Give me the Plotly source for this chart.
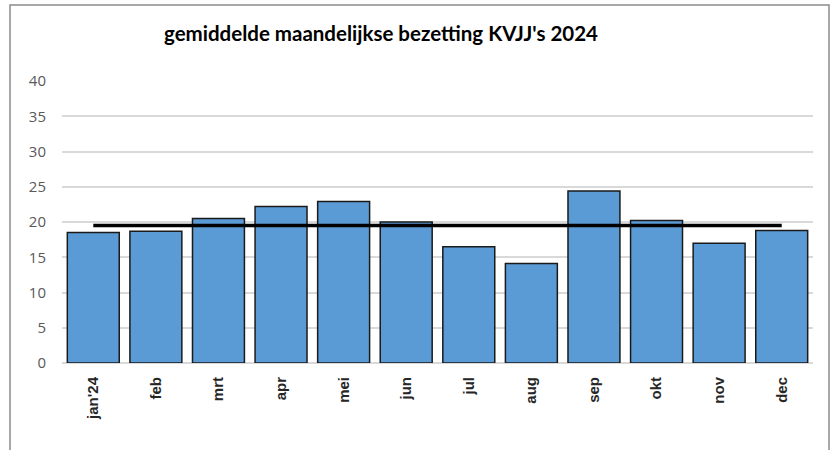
import plotly.graph_objects as go

months = ["jan'24", "feb", "mrt", "apr", "mei", "jun", "jul", "aug", "sep", "okt", "nov", "dec"]
bezetting = [18.5, 18.7, 20.5, 22.2, 22.9, 20.0, 16.5, 14.1, 24.4, 20.2, 17.0, 18.8]
gemiddelde = [19.5] * 12
y_ticks = [0, 5, 10, 15, 20, 25, 30, 35, 40]

fig = go.Figure()
fig.add_trace(go.Bar(
    x=months, y=bezetting,
    marker=dict(color="#5B9BD5", line=dict(color="#1a1a1a", width=1.5)),
    showlegend=False,
))
fig.add_trace(go.Scatter(
    x=months, y=gemiddelde, mode="lines",
    line=dict(color="#000000", width=3.5),
    showlegend=False,
))

fig.update_layout(
    width=833, height=450,
    margin=dict(l=62, r=20, t=81, b=87, autoexpand=False),
    paper_bgcolor="white", plot_bgcolor="white",
    bargap=0.17,
    title=dict(
        text="<b>gemiddelde maandelijkse bezetting KVJJ's 2024</b>",
        x=381 / 833, xanchor="center", y=1 - 34 / 450, yanchor="middle",
        font=dict(family="Lato, Open Sans, sans-serif", size=20.5, color="#000000"),
    ),
    xaxis=dict(
        tickangle=-90,
        tickprefix="<b>", ticksuffix="</b>",
        tickfont=dict(family="Liberation Sans, Arial, sans-serif", size=15, color="#262626"),
        showgrid=False, showline=False, ticks="outside", ticklen=7, tickcolor="white",
    ),
    yaxis=dict(
        range=[0, 40], tickvals=y_ticks,
        showgrid=True, gridcolor="#d9d9d9", gridwidth=1.5,
        zeroline=True, zerolinecolor="#d9d9d9", zerolinewidth=1.5,
        tickfont=dict(family="Open Sans, sans-serif", size=15, color="#595959"),
        ticks="outside", ticklen=12, tickcolor="white",
    ),
    font=dict(family="Open Sans, sans-serif"),
    shapes=[dict(
        type="rect", xref="paper", yref="paper",
        x0=-52 / 751, x1=1 + 16 / 751, y0=-100 / 282, y1=1 + 76 / 282,
        line=dict(color="#8c8c8c", width=1.5), fillcolor="rgba(0,0,0,0)", layer="below",
    )],
)

fig.write_html(
    "out.html",
    config={"displayModeBar": False},
    post_script="document.body.style.margin='0';document.body.style.overflow='hidden';",
)
